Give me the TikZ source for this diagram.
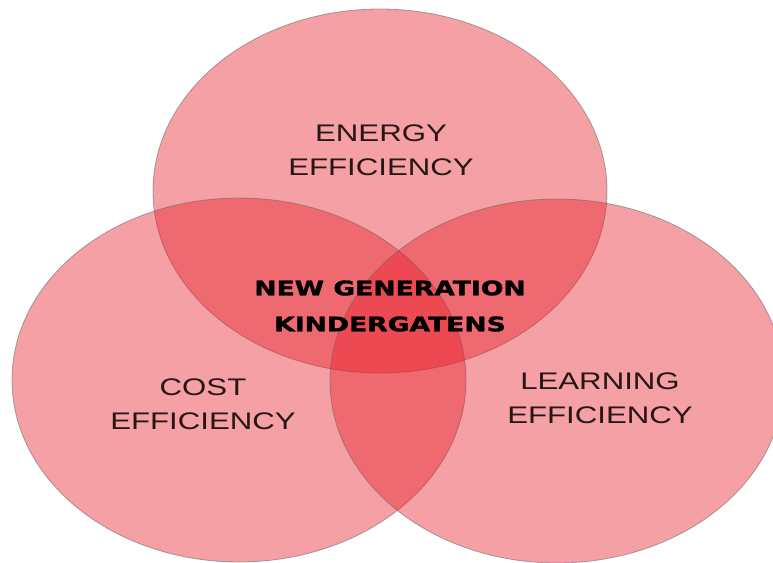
\documentclass[tikz,border=0pt]{standalone}
\usepackage{fontspec}
\setmainfont{Liberation Sans}
\newfontfamily\heavyfont{DejaVu Sans}[BoldFeatures={FakeBold=1.5}]
\usepackage{xcolor}
\usepackage{tikz}
\usetikzlibrary{shapes,positioning}

\definecolor{vennred}{RGB}{231,29,41}
\definecolor{inktext}{RGB}{40,22,22}

\begin{document}
\begin{tikzpicture}[
        x=1pt, y=-1pt,
        area/.style={ellipse, draw=black!60, draw opacity=0.55, line width=0.8pt, fill=vennred, fill opacity=0.42, minimum width=454pt, minimum height=364pt, inner sep=0pt},
        areatext/.style={align=center, text=inktext, font=\fontsize{24}{34}\selectfont, xscale=1.3},
        coretext/.style={align=center, text=black, font=\heavyfont\bfseries\fontsize{20}{36}\selectfont, xscale=1.33}
    ]
    \useasboundingbox (0,0) rectangle (773,562);

    % Three overlapping areas
    \node [area] (energy) at (380,191) {};
    \node [area] (cost) at (239,380) {};
    \node [area] (learning) at (557,381) {};

    % Area labels
    \node [areatext] (energylabel) at (381,150) {ENERGY\\EFFICIENCY};
    \node [areatext] (costlabel) at (203,404) {COST\\EFFICIENCY};
    \node [areatext] (learninglabel) at (600,398) {LEARNING\\EFFICIENCY};

    % Common centre
    \node [coretext] (centre) at (390,306) {NEW GENERATION\\KINDERGATENS};

\end{tikzpicture}
\end{document}
